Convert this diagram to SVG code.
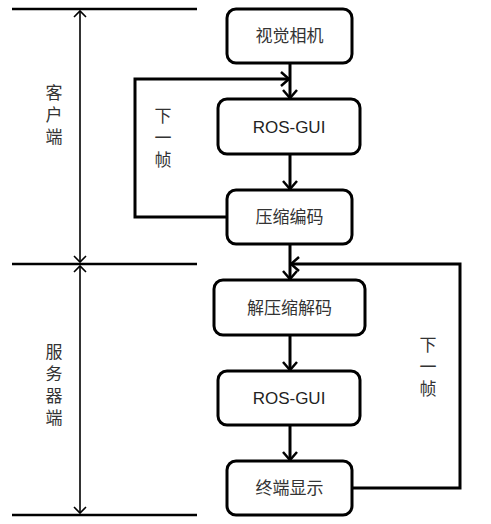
<svg xmlns="http://www.w3.org/2000/svg" width="491" height="524" viewBox="0 0 491 524">
<defs>
<marker id="v" markerUnits="userSpaceOnUse" markerWidth="20" markerHeight="20" refX="10" refY="10" orient="auto" viewBox="0 0 20 20">
<path d="M2,3 L10,10 L2,17" fill="none" stroke="#000" stroke-width="2.5"/>
</marker>
<marker id="t" markerUnits="userSpaceOnUse" markerWidth="16" markerHeight="16" refX="8" refY="8" orient="auto-start-reverse" viewBox="0 0 16 16">
<path d="M2,2 L8,8 L2,14" fill="none" stroke="#000" stroke-width="1.6"/>
</marker>
</defs>
<style>
.box{fill:#fff;stroke:#000;stroke-width:3}
.cn{font-family:"Noto Sans CJK SC","Liberation Sans",sans-serif;font-size:17px;fill:#333;text-anchor:middle}
.vt{font-family:"Noto Sans CJK SC","Liberation Sans",sans-serif;font-size:17px;fill:#333;text-anchor:middle;writing-mode:vertical-rl;letter-spacing:5px}
.en{font-family:"Liberation Sans",Arial,sans-serif;font-size:17px;fill:#222;text-anchor:middle}
.ln{fill:none;stroke:#000;stroke-width:3}
.sep{stroke:#000;stroke-width:2.5}
.dim{stroke:#000;stroke-width:1.6;marker-start:url(#t);marker-end:url(#t)}
</style>
<g id="scale">
<line class="sep" x1="12" y1="9" x2="197" y2="9"/>
<line class="sep" x1="12" y1="264" x2="197" y2="264"/>
<line class="sep" x1="12" y1="515" x2="197" y2="515"/>
<line class="dim" x1="80" y1="11" x2="80" y2="262"/>
<line class="dim" x1="80" y1="266" x2="80" y2="513"/>
<text class="vt" x="54" y="117">客户端</text>
<text class="vt" x="54" y="387">服务器端</text>
</g>
<g id="connectors">
<line class="ln" x1="290" y1="63" x2="290" y2="98" marker-end="url(#v)"/>
<line class="ln" x1="290" y1="154" x2="290" y2="189" marker-end="url(#v)"/>
<line class="ln" x1="290" y1="244" x2="290" y2="279" marker-end="url(#v)"/>
<line class="ln" x1="290" y1="335" x2="290" y2="370" marker-end="url(#v)"/>
<line class="ln" x1="290" y1="425" x2="290" y2="460" marker-end="url(#v)"/>
<polyline class="ln" points="227,217 135,217 135,79 289,79" marker-end="url(#v)"/>
<polyline class="ln" points="352,488 460,488 460,264 291,264" marker-end="url(#v)"/>
<text class="vt" x="163" y="140">下一帧</text>
<text class="vt" x="428" y="369">下一帧</text>
</g>
<g id="n1"><rect class="box" x="227" y="9" width="125" height="54" rx="9"/><text class="cn" x="289.5" y="42">视觉相机</text></g>
<g id="n2"><rect class="box" x="218" y="99" width="142" height="55" rx="9"/><text class="en" x="289" y="133">ROS-GUI</text></g>
<g id="n3"><rect class="box" x="227" y="190" width="125" height="54" rx="9"/><text class="cn" x="289.5" y="223">压缩编码</text></g>
<g id="n4"><rect class="box" x="214" y="280" width="151" height="55" rx="9"/><text class="cn" x="289.5" y="314">解压缩解码</text></g>
<g id="n5"><rect class="box" x="218" y="371" width="142" height="54" rx="9"/><text class="en" x="289" y="404">ROS-GUI</text></g>
<g id="n6"><rect class="box" x="227" y="461" width="125" height="54" rx="9"/><text class="cn" x="289.5" y="494">终端显示</text></g>
</svg>
